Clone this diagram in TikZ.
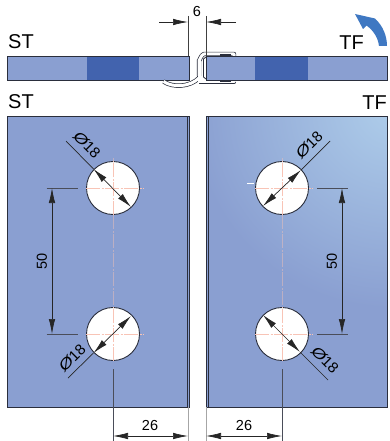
\documentclass[tikz,border=0pt]{standalone}
\usepackage{fontspec}
\setmainfont{Liberation Sans}
\usetikzlibrary{arrows.meta}
\definecolor{glass}{HTML}{8A9FD1}
\definecolor{glassdark}{HTML}{4263AE}
\definecolor{glasslight}{HTML}{AECDEA}
\definecolor{edgeline}{HTML}{2A2E3C}
\definecolor{bluearrow}{HTML}{3F78C2}
\definecolor{centre}{HTML}{F8C4B6}
\tikzset{
  panel/.style={draw=edgeline,line width=0.9pt},
  hole/.style={draw=edgeline,fill=white,line width=0.9pt},
  dimline/.style={line width=0.7pt,draw=black!85},
  extline/.style={line width=0.8pt,draw=edgeline!85},
  faintext/.style={line width=0.6pt,draw=black!35},
  tipboth/.style={dimline,{Latex[length=15pt,width=6.5pt]}-{Latex[length=15pt,width=6.5pt]}},
  tipend/.style={dimline,-{Latex[length=15pt,width=6.5pt]}},
  centreline/.style={draw=centre,line width=0.4pt,dash pattern=on 14pt off 1.5pt on 2pt off 1.5pt},
  dimtext/.style={font=\fontsize{14.5}{15}\selectfont,inner sep=0pt,text=black},
  phitext/.style={font=\fontsize{15}{16}\selectfont,inner sep=0pt,text=black},
  sidetext/.style={font=\fontsize{20}{21}\selectfont,inner sep=0pt,text=black},
  sealout/.style={draw=edgeline,line width=4.4pt,line join=round,line cap=butt},
  sealin/.style={draw=white,line width=3pt,line join=round,line cap=butt},
}
\newcommand{\phisym}{{\itshape\addfontfeature{FakeStretch=1.25}Ø}}
\begin{document}
\begin{tikzpicture}[x=1pt,y=-1pt]
\useasboundingbox (0,0) rectangle (389,441);
% centres of the holes
\coordinate (LU) at (113,188);
\coordinate (LD) at (113,334);
\coordinate (RU) at (282,188);
\coordinate (RD) at (282,334);
% top view: left glass
\fill[glass] (7,56) rectangle (189,80);
\fill[glassdark] (87,56) rectangle (139,80);
\draw[panel] (7,56) rectangle (189,80);
% seal
\def\sealtop{(234,58) -- (234,54) -- (204,54) to[out=180,in=-90] (199,60) -- (199,76)}
\def\sealbot{(234,78) -- (234,82) -- (199,82)}
\def\sealfin{(199,78) .. controls (190,87) and (173,88) .. (163.5,81.5)}
\foreach \sty in {sealout,sealin}{
  \draw[\sty] \sealtop;
  \draw[\sty] \sealbot;
  \draw[\sty] \sealfin;
  \draw[\sty] (199,60) -- (199,82);
}
\draw[edgeline,line width=0.8pt] (206,57) -- (203.5,59) -- (203.5,77) -- (206,79);
% top view: right glass
\fill[glass] (206,56) rectangle (387,80);
\fill[glassdark] (255,56) rectangle (308,80);
\draw[panel] (206,56) rectangle (387,80);
\fill[edgeline] (220,54) rectangle (231,56);
\fill[edgeline] (220,80) rectangle (231,82);
% panels
\fill[glass] (7,116) rectangle (189,407);
\draw[panel] (7,116) rectangle (189,407);
\draw[edgeline,line width=0.7pt] (187,116) -- (187,407);
\fill[glass] (206,116) rectangle (387,407);
\begin{scope}
  \clip (206,116) rectangle (387,407);
  \shade[inner color=glasslight,outer color=glass] (392,108) circle[radius=200];
\end{scope}
\draw[panel] (206,116) rectangle (387,407);
\draw[edgeline,line width=0.7pt] (208.5,116) -- (208.5,407);
% centre lines behind holes
\draw[centreline,draw opacity=.45] (113,158) -- (113,360);
\draw[centreline,draw opacity=.45] (282,158) -- (282,360);
% holes
\foreach \c in {LU,LD,RU,RD}{\draw[hole] (\c) circle[radius=26.5];}
% centre lines
\foreach \c in {LU,LD,RU,RD}{
  \draw[centreline] ([xshift=-27pt]\c) -- ([xshift=31pt]\c);
  \draw[centreline] ([yshift=-27pt]\c) -- ([yshift=27pt]\c);
}
\draw[white,line width=0.6pt] (247,183) -- (254,183);
% Phi dimensions
\coordinate (a1) at (66,141); \coordinate (a2) at (93.5,169); \coordinate (a3) at (131,207);
\draw[dimline] (a1) -- (a2); \draw[tipboth] (a2) -- (a3);
\node[phitext,rotate=-45] (p1) at (87,145) {\phisym18};
\coordinate (b1) at (68,378); \coordinate (b2) at (93.5,353); \coordinate (b3) at (131,316);
\draw[dimline] (b1) -- (b2); \draw[tipboth] (b2) -- (b3);
\node[phitext,rotate=45] (p2) at (72,358) {\phisym18};
\coordinate (c1) at (330,141); \coordinate (c2) at (301,170); \coordinate (c3) at (263,206);
\draw[dimline] (c1) -- (c2); \draw[tipboth] (c2) -- (c3);
\node[phitext,rotate=45] (p3) at (309,145) {\phisym18};
\coordinate (d1) at (328,380); \coordinate (d2) at (300,352); \coordinate (d3) at (263,315);
\draw[dimline] (d1) -- (d2); \draw[tipboth] (d2) -- (d3);
\node[phitext,rotate=-45] (p4) at (325,360) {\phisym18};
% 50 dimensions
\coordinate (e1) at (46.5,188); \coordinate (e2) at (78,188);
\coordinate (e3) at (46.5,334); \coordinate (e4) at (78,334);
\coordinate (e5) at (52,188); \coordinate (e6) at (52,334);
\draw[extline] (e1) -- (e2); \draw[extline] (e3) -- (e4);
\draw[tipboth] (e5) -- (e6);
\node[dimtext,rotate=90] (t50a) at (42,261) {50};
\coordinate (f1) at (317,188); \coordinate (f2) at (348,188);
\coordinate (f3) at (317,334); \coordinate (f4) at (348,334);
\coordinate (f5) at (342,188); \coordinate (f6) at (342,334);
\draw[extline] (f1) -- (f2); \draw[extline] (f3) -- (f4);
\draw[tipboth] (f5) -- (f6);
\node[dimtext,rotate=90] (t50b) at (332,261) {50};
% bottom 26 dimensions
\coordinate (g1) at (113,369); \coordinate (g2) at (113,441);
\coordinate (g3) at (188,407); \coordinate (g4) at (188,441);
\coordinate (g5) at (113,436); \coordinate (g6) at (188,436);
\draw[extline] (g1) -- (g2); \draw[faintext] (g3) -- (g4);
\draw[tipboth] (g5) -- (g6);
\node[dimtext] (t26a) at (150,425.5) {26};
\coordinate (h1) at (282,369); \coordinate (h2) at (282,441);
\coordinate (h3) at (206,407); \coordinate (h4) at (206,441);
\coordinate (h5) at (206,436); \coordinate (h6) at (282,436);
\draw[extline] (h1) -- (h2); \draw[faintext] (h3) -- (h4);
\draw[tipboth] (h5) -- (h6);
\node[dimtext] (t26b) at (244,425.5) {26};
% top 6 dimension
\coordinate (i1) at (188,16); \coordinate (i2) at (188,56);
\coordinate (i3) at (206,16); \coordinate (i4) at (206,56);
\coordinate (i5) at (159,22); \coordinate (i6) at (188,22);
\coordinate (i7) at (236,22); \coordinate (i8) at (206,22);
\draw[faintext,draw=black!75] (i1) -- (i2); \draw[faintext,draw=black!75] (i3) -- (i4);
\draw[tipend] (i5) -- (i6); \draw[tipend] (i7) -- (i8);
\node[dimtext] (t6) at (197,12) {6};
% labels
\node[sidetext,anchor=west] (st1) at (8,42) {ST};
\node[sidetext,anchor=west] (st2) at (8,102) {ST};
\node[sidetext,anchor=east] (tf1) at (364,43) {TF};
\node[sidetext,anchor=east] (tf2) at (387,103) {TF};
% rotation arrow
\fill[bluearrow] (387,46) .. controls (387,36) and (383,26) .. (375,18.5)
  -- (355,14) -- (363,29) -- (366.5,25.5) .. controls (374,31) and (378,38) .. (379,46) -- cycle;
\end{tikzpicture}
\end{document}
